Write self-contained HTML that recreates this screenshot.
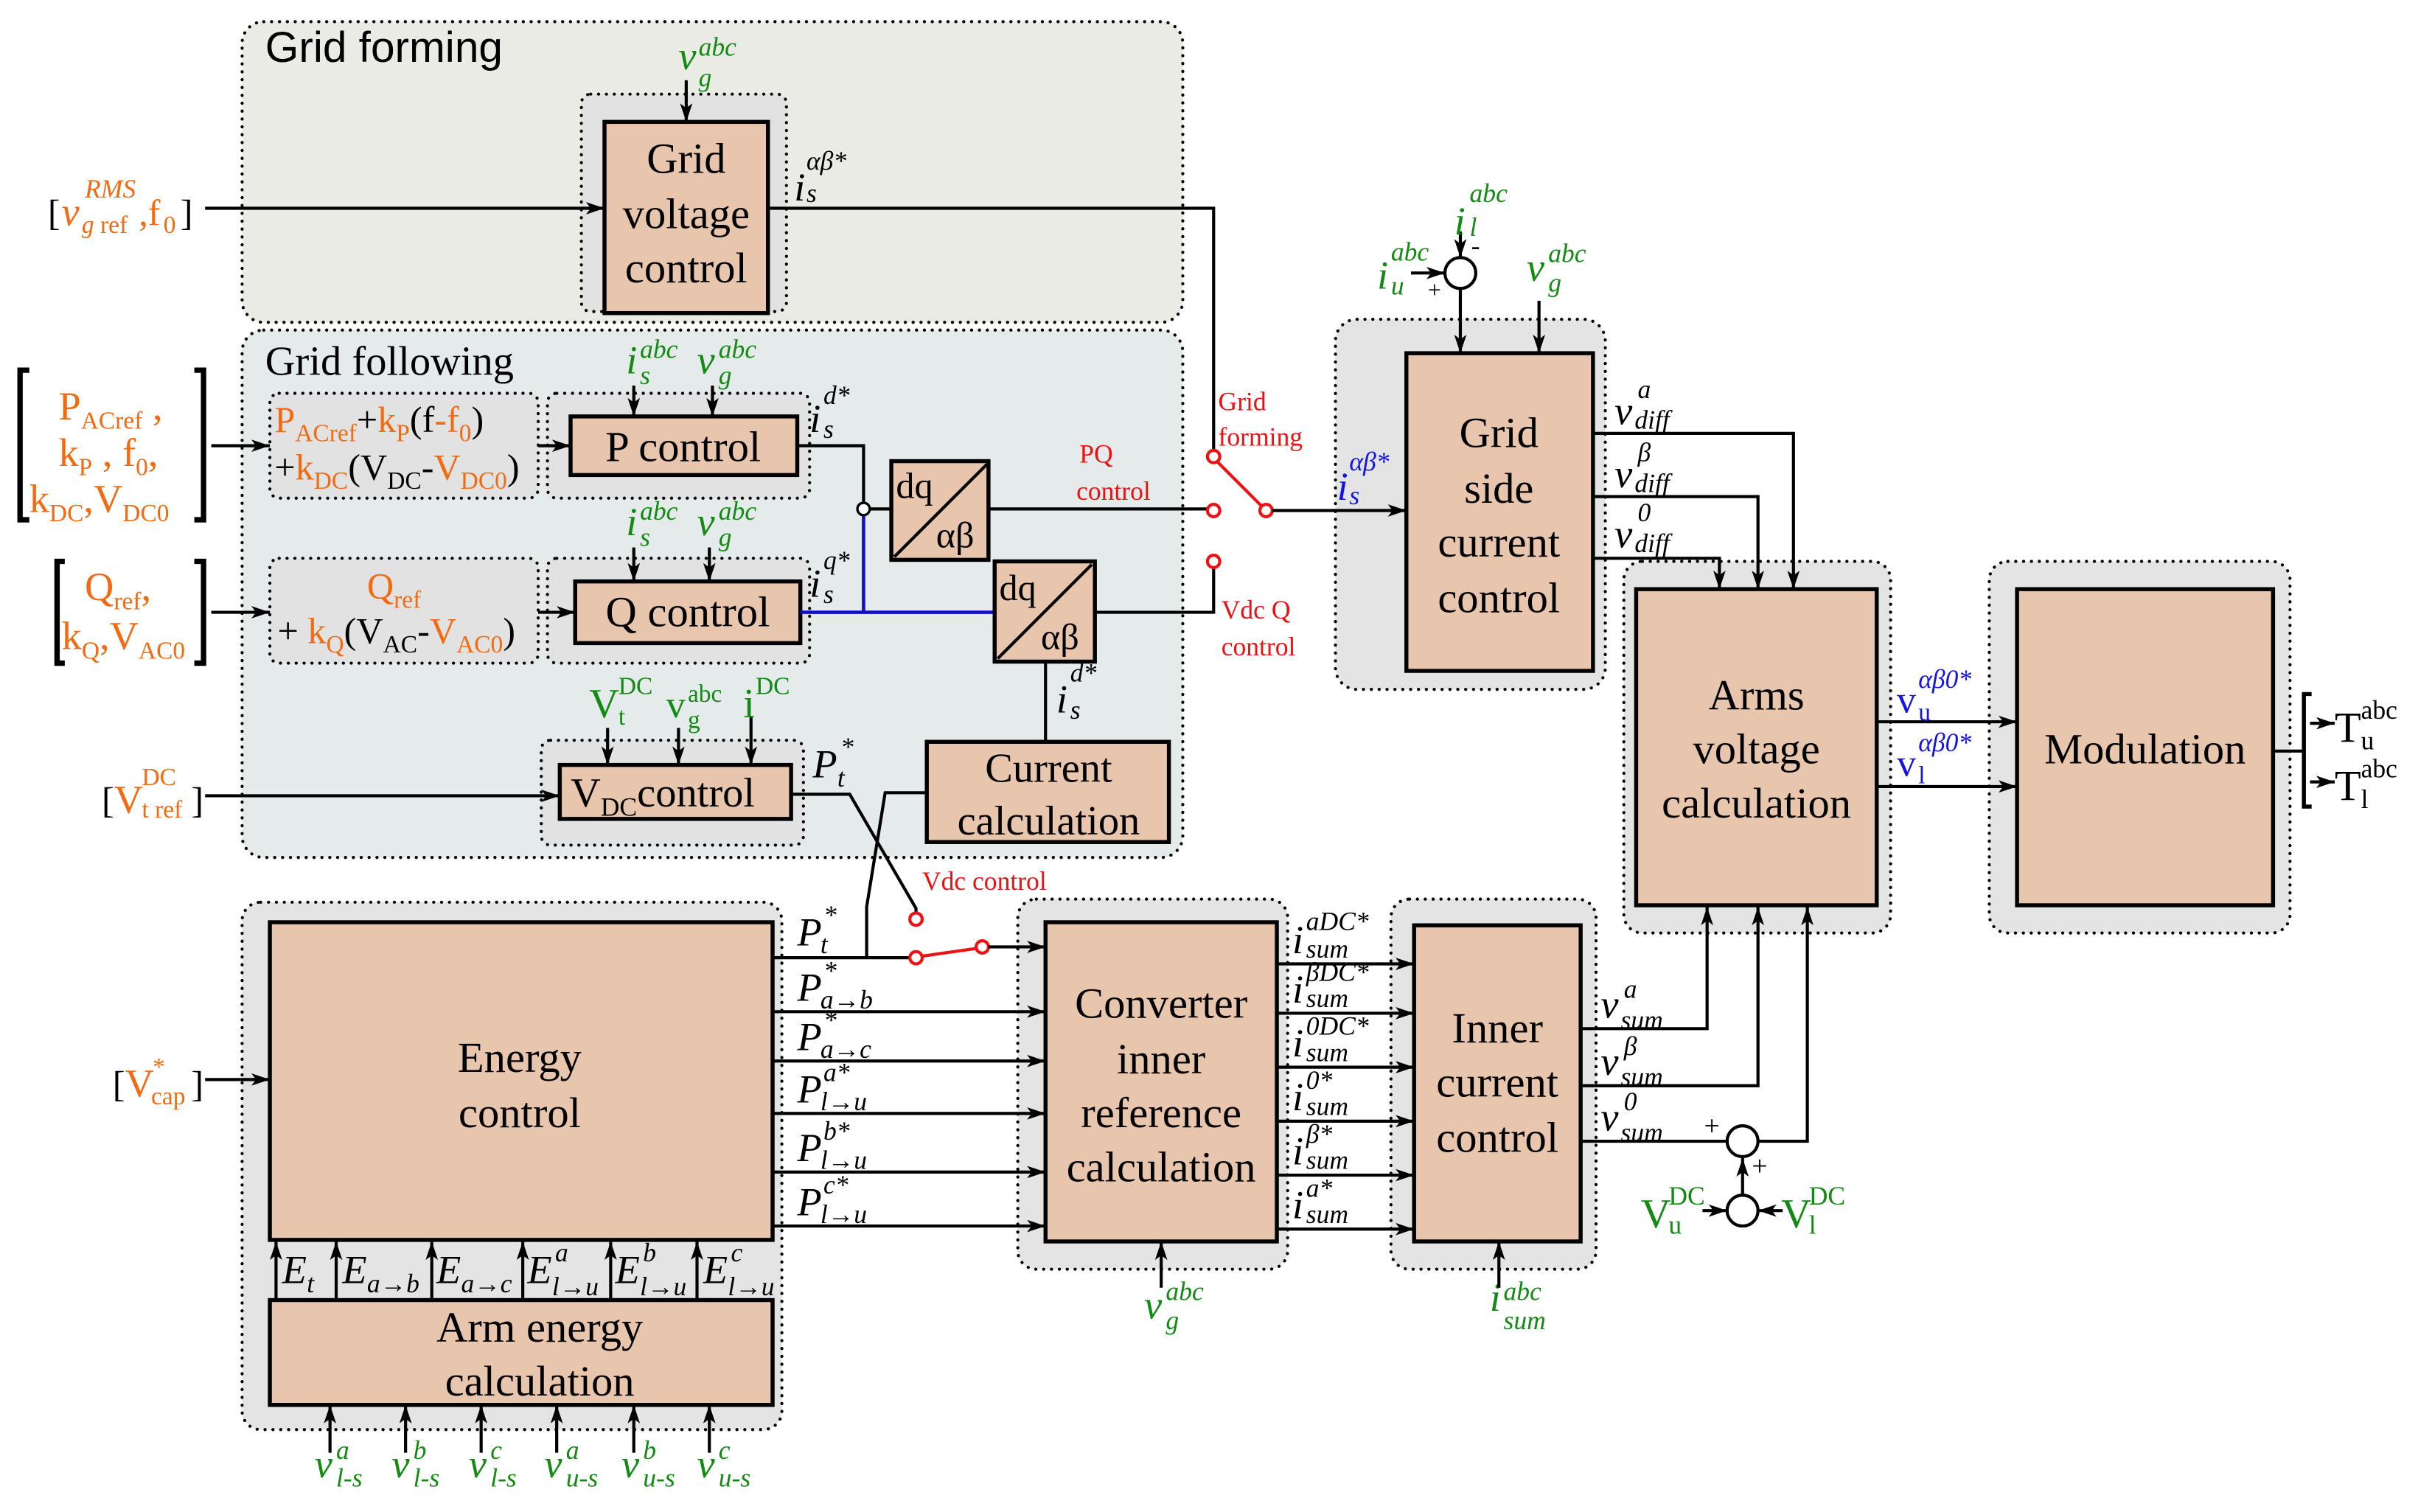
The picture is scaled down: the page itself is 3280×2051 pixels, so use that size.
<!DOCTYPE html>
<html><head><meta charset="utf-8"><style>
html,body{margin:0;padding:0;background:#fff}
svg{display:block}
text{font-family:"Liberation Serif",serif;fill:#000}
.m{font-style:italic;font-size:26px}
.s{font-style:italic;font-size:17px}
.b{font-size:28px;text-anchor:middle}
.u{font-size:24px}
.us{font-size:16px}
.g{fill:#138a13}.o{fill:#f26b12}.r{fill:#ee1111}.bl{fill:#1515e0}
.grp{stroke:#000;stroke-width:2;stroke-dasharray:0.1 5;stroke-linecap:round}
.box{fill:#e8c5ad;stroke:#000;stroke-width:2.6}
.ln{stroke:#000;stroke-width:2;fill:none}
.ar{stroke:#000;stroke-width:2;fill:none;marker-end:url(#a)}
.t{fill:#fff;stroke:#ee1111;stroke-width:2}
</style></head><body>
<svg width="3280" height="2051" viewBox="0 0 1568 980.4" xmlns="http://www.w3.org/2000/svg">
<defs><marker id="a" viewBox="0 0 12 8" refX="12" refY="4" markerWidth="12" markerHeight="8" markerUnits="userSpaceOnUse" orient="auto"><path d="M0,0 L12,4 L0,8 L3,4 z" fill="#000"/></marker></defs>

<!-- all group backgrounds first -->
<rect x="157" y="14" width="610" height="195" rx="14" fill="#ebebe6" class="grp"/>
<rect x="377" y="61" width="133" height="141" rx="6" fill="#e2e2e2" class="grp"/>
<rect x="157" y="214" width="610" height="342" rx="14" fill="#e5eaeb" class="grp"/>
<rect x="175" y="255" width="174" height="68" rx="6" fill="#e2e2e2" class="grp"/>
<rect x="355" y="255" width="170" height="68" rx="6" fill="#e2e2e2" class="grp"/>
<rect x="175" y="362" width="174" height="68" rx="6" fill="#e2e2e2" class="grp"/>
<rect x="355" y="362" width="170" height="68" rx="6" fill="#e2e2e2" class="grp"/>
<rect x="351" y="480" width="170" height="68" rx="6" fill="#e2e2e2" class="grp"/>
<rect x="157" y="585" width="350" height="342" rx="12" fill="#e4e4e4" class="grp"/>
<rect x="660" y="583" width="175" height="240" rx="12" fill="#e4e4e4" class="grp"/>
<rect x="902" y="583" width="133" height="240" rx="12" fill="#e4e4e4" class="grp"/>
<rect x="866" y="207" width="175" height="240" rx="14" fill="#e4e4e4" class="grp"/>
<rect x="1053" y="364" width="173" height="241" rx="12" fill="#e4e4e4" class="grp"/>
<rect x="1290" y="364" width="195" height="241" rx="12" fill="#e4e4e4" class="grp"/>

<!-- Grid forming -->
<text x="172" y="40" style="font-family:'Liberation Sans',sans-serif;font-size:28px">Grid forming</text>
<rect x="392" y="79" width="106" height="124" class="box"/>
<text class="b" x="445" y="112">Grid</text><text class="b" x="445" y="148">voltage</text><text class="b" x="445" y="183">control</text>
<text class="m g" x="440" y="45">v</text><text class="s g" x="453" y="36">abc</text><text class="s g" x="453" y="56">g</text>
<line class="ar" x1="445" y1="52" x2="445" y2="79"/>
<text class="u" x="31" y="146">[</text><text class="m o" x="40" y="146">v</text><text class="s o" x="55" y="128">RMS</text><text class="us o" x="53" y="151"><tspan font-style="italic">g</tspan> ref</text><text class="u o" x="90" y="146">,f</text><text class="us o" x="106" y="151">0</text><text class="u" x="117" y="146">]</text>
<line class="ar" x1="133" y1="135" x2="392" y2="135"/>
<polyline class="ln" points="498,135 787,135 787,292"/>
<text class="m" x="515" y="130">i</text><text class="s" x="523" y="110">αβ*</text><text class="s" x="523" y="131">s</text>

<!-- Grid following -->
<text x="172" y="243" style="font-size:27px">Grid following</text>
<text class="u" x="178" y="280"><tspan class="o">P</tspan><tspan class="o us" dy="6">ACref</tspan><tspan dy="-6">+</tspan><tspan class="o">k</tspan><tspan class="o us" dy="6">P</tspan><tspan dy="-6">(f</tspan><tspan class="o">-f</tspan><tspan class="o us" dy="6">0</tspan><tspan dy="-6">)</tspan></text>
<text class="u" x="178" y="311"><tspan>+</tspan><tspan class="o">k</tspan><tspan class="o us" dy="6">DC</tspan><tspan dy="-6">(V</tspan><tspan class="us" dy="6">DC</tspan><tspan dy="-6">-</tspan><tspan class="o">V</tspan><tspan class="o us" dy="6">DC0</tspan><tspan dy="-6">)</tspan></text>
<path class="ln" style="stroke-width:3.5" d="M19,240 H13 V337 H19 M126,240 H132 V337 H126"/>
<text class="u o" x="38" y="272" style="font-size:26px">P<tspan class="us" dy="6">ACref</tspan><tspan dy="-6"> ,</tspan></text>
<text class="u o" x="38" y="302" style="font-size:26px">k<tspan class="us" dy="6">P</tspan><tspan dy="-6"> ,  f</tspan><tspan class="us" dy="6">0</tspan><tspan dy="-6">,</tspan></text>
<text class="u o" x="19" y="332" style="font-size:26px">k<tspan class="us" dy="6">DC</tspan><tspan dy="-6">,V</tspan><tspan class="us" dy="6">DC0</tspan></text>
<line class="ar" x1="137" y1="289" x2="175" y2="289"/>
<line class="ar" x1="349" y1="289" x2="370" y2="289"/>
<rect x="370" y="270" width="147" height="38" class="box"/>
<text class="b" x="443" y="299">P control</text>
<text class="m g" x="406" y="242">i</text><text class="s g" x="415" y="232">abc</text><text class="s g" x="415" y="249">s</text>
<text class="m g" x="452" y="242">v</text><text class="s g" x="466" y="232">abc</text><text class="s g" x="466" y="249">g</text>
<line class="ar" x1="411" y1="250" x2="411" y2="270"/><line class="ar" x1="462" y1="250" x2="462" y2="270"/>
<text class="m" x="525" y="280">i</text><text class="s" x="534" y="262">d*</text><text class="s" x="534" y="284">s</text>
<polyline class="ln" points="517,289 560,289 560,326"/>
<line class="ln" x1="564" y1="330" x2="578" y2="330"/>
<rect x="578" y="299" width="63" height="64" class="box"/>
<line class="ln" x1="580" y1="361" x2="640" y2="301"/>
<text x="581" y="323" style="font-size:24px">dq</text><text x="607" y="355" style="font-size:24px">αβ</text>
<line class="ln" x1="641" y1="330" x2="783" y2="330"/>
<text class="r" x="700" y="300" style="font-size:17px">PQ</text><text class="r" x="698" y="324" style="font-size:17px">control</text>

<path class="ln" style="stroke-width:3.5" d="M42,364 H37 V430 H42 M126,364 H132 V430 H126"/>
<text class="o" x="55" y="389" style="font-size:26px">Q<tspan class="us" dy="6">ref</tspan><tspan dy="-6">,</tspan></text>
<text class="o" x="40" y="421" style="font-size:26px">k<tspan class="us" dy="6">Q</tspan><tspan dy="-6">,V</tspan><tspan class="us" dy="6">AC0</tspan></text>
<line class="ar" x1="137" y1="397" x2="175" y2="397"/>
<text class="u o" x="238" y="388">Q<tspan class="us" dy="6">ref</tspan></text>
<text class="u" x="180" y="417">+ <tspan class="o">k</tspan><tspan class="o us" dy="6">Q</tspan><tspan dy="-6">(V</tspan><tspan class="us" dy="6">AC</tspan><tspan dy="-6">-</tspan><tspan class="o">V</tspan><tspan class="o us" dy="6">AC0</tspan><tspan dy="-6">)</tspan></text>
<line class="ar" x1="349" y1="397" x2="373" y2="397"/>
<rect x="373" y="377" width="146" height="40" class="box"/>
<text class="b" x="446" y="406">Q control</text>
<text class="m g" x="406" y="347">i</text><text class="s g" x="415" y="337">abc</text><text class="s g" x="415" y="354">s</text>
<text class="m g" x="452" y="347">v</text><text class="s g" x="466" y="337">abc</text><text class="s g" x="466" y="354">g</text>
<line class="ar" x1="411" y1="355" x2="411" y2="377"/><line class="ar" x1="460" y1="355" x2="460" y2="377"/>
<text class="m" x="525" y="387">i</text><text class="s" x="534" y="369">q*</text><text class="s" x="534" y="391">s</text>
<path d="M519,397 H645 M560,334 V397" stroke="#1010c0" stroke-width="2.2" fill="none"/>
<circle cx="560" cy="330" r="4" fill="#fff" stroke="#000" stroke-width="1.6"/>
<rect x="645" y="364" width="65" height="65" class="box"/>
<line class="ln" x1="647" y1="427" x2="708" y2="366"/>
<text x="648" y="389" style="font-size:24px">dq</text><text x="675" y="421" style="font-size:24px">αβ</text>
<polyline class="ln" points="710,397 787,397 787,368"/>
<text class="r" x="792" y="401" style="font-size:17px">Vdc Q</text><text class="r" x="792" y="425" style="font-size:17px">control</text>
<text class="m" x="685" y="462">i</text><text class="s" x="694" y="442">d*</text><text class="s" x="694" y="466">s</text>
<line class="ln" x1="678" y1="429" x2="678" y2="481"/>
<rect x="601" y="481" width="157" height="65" class="box"/>
<text class="b" x="680" y="507" style="font-size:27px">Current</text><text class="b" x="680" y="541" style="font-size:27px">calculation</text>
<rect x="363" y="496" width="150" height="35" class="box"/>
<text x="370" y="523" style="font-size:27px">V<tspan style="font-size:17px" dy="6">DC</tspan><tspan dy="-6">control</tspan></text>
<text class="g" x="382" y="465" style="font-size:27px">V</text><text class="g" x="401" y="450" style="font-size:16px">DC</text><text class="g" x="401" y="470" style="font-size:16px">t</text>
<text class="g" x="432" y="465" style="font-size:25px">v</text><text class="g" x="446" y="455" style="font-size:16px">abc</text><text class="g" x="446" y="472" style="font-size:16px">g</text>
<text class="g" x="482" y="465" style="font-size:27px">i</text><text class="g" x="490" y="450" style="font-size:16px">DC</text>
<line class="ar" x1="394" y1="472" x2="394" y2="496"/><line class="ar" x1="440" y1="472" x2="440" y2="496"/><line class="ar" x1="487" y1="465" x2="487" y2="496"/>
<text class="u" x="66" y="527">[</text><text class="o" x="74" y="527" style="font-size:26px">V</text><text class="o" x="92" y="509" style="font-size:16px">DC</text><text class="o" x="92" y="530" style="font-size:16px">t ref</text><text class="u" x="124" y="527">]</text>
<line class="ar" x1="133" y1="516" x2="363" y2="516"/>
<text class="m" x="527" y="504">P</text><text class="s" x="545" y="490">*</text><text class="s" x="543" y="510">t</text>
<polyline class="ln" points="513,515 551,515 594,589 594,592"/>
<polyline class="ln" points="601,514 574,514 562,588 562,621"/>
<circle cx="594" cy="596" r="4" class="t"/>
<text class="r" x="598" y="577" style="font-size:17px">Vdc control</text>

<!-- Energy -->
<rect x="175" y="598" width="326" height="206" class="box"/>
<text class="b" x="337" y="695">Energy</text><text class="b" x="337" y="731">control</text>
<rect x="175" y="843" width="326" height="68" class="box"/>
<text class="b" x="350" y="870">Arm energy</text><text class="b" x="350" y="905">calculation</text>
<g class="ar"><line x1="179" y1="843" x2="179" y2="805"/><line x1="218" y1="843" x2="218" y2="805"/><line x1="280" y1="843" x2="280" y2="805"/><line x1="339" y1="843" x2="339" y2="805"/><line x1="396" y1="843" x2="396" y2="805"/><line x1="452" y1="843" x2="452" y2="805"/></g>
<text class="m" x="183" y="832">E</text><text class="s" x="199" y="838">t</text>
<text class="m" x="222" y="832">E</text><text class="s" x="238" y="838">a→b</text>
<text class="m" x="283" y="832">E</text><text class="s" x="299" y="838">a→c</text>
<text class="m" x="342" y="832">E</text><text class="s" x="360" y="818">a</text><text class="s" x="358" y="840">l→u</text>
<text class="m" x="399" y="832">E</text><text class="s" x="417" y="818">b</text><text class="s" x="415" y="840">l→u</text>
<text class="m" x="456" y="832">E</text><text class="s" x="474" y="818">c</text><text class="s" x="472" y="840">l→u</text>
<g class="ar"><line x1="214" y1="942" x2="214" y2="911"/><line x1="263" y1="942" x2="263" y2="911"/><line x1="312" y1="942" x2="312" y2="911"/><line x1="361" y1="942" x2="361" y2="911"/><line x1="411" y1="942" x2="411" y2="911"/><line x1="460" y1="942" x2="460" y2="911"/></g>
<text class="m g" x="204" y="958">v</text><text class="s g" x="218" y="946">a</text><text class="s g" x="218" y="964">l-s</text>
<text class="m g" x="254" y="958">v</text><text class="s g" x="268" y="946">b</text><text class="s g" x="268" y="964">l-s</text>
<text class="m g" x="304" y="958">v</text><text class="s g" x="318" y="946">c</text><text class="s g" x="318" y="964">l-s</text>
<text class="m g" x="353" y="958">v</text><text class="s g" x="367" y="946">a</text><text class="s g" x="367" y="964">u-s</text>
<text class="m g" x="403" y="958">v</text><text class="s g" x="417" y="946">b</text><text class="s g" x="417" y="964">u-s</text>
<text class="m g" x="452" y="958">v</text><text class="s g" x="466" y="946">c</text><text class="s g" x="466" y="964">u-s</text>
<text class="u" x="73" y="711">[</text><text class="o" x="81" y="711" style="font-size:26px">V</text><text class="o" x="99" y="697" style="font-size:16px">*</text><text class="o" x="98" y="716" style="font-size:16px">cap</text><text class="u" x="124" y="711">]</text>
<line class="ar" x1="133" y1="700" x2="175" y2="700"/>
<text class="m" x="517" y="613">P</text><text class="s" x="534" y="599">*</text><text class="s" x="532" y="618">t</text>
<text class="m" x="517" y="649">P</text><text class="s" x="534" y="635">*</text><text class="s" x="532" y="654">a→b</text>
<text class="m" x="517" y="681">P</text><text class="s" x="534" y="667">*</text><text class="s" x="532" y="686">a→c</text>
<text class="m" x="517" y="715">P</text><text class="s" x="534" y="701">a*</text><text class="s" x="532" y="720">l→u</text>
<text class="m" x="517" y="753">P</text><text class="s" x="534" y="739">b*</text><text class="s" x="532" y="758">l→u</text>
<text class="m" x="517" y="788">P</text><text class="s" x="534" y="774">c*</text><text class="s" x="532" y="793">l→u</text>
<line class="ln" x1="501" y1="621" x2="590" y2="621"/>
<g class="ar"><line x1="501" y1="656" x2="678" y2="656"/><line x1="501" y1="688" x2="678" y2="688"/><line x1="501" y1="722" x2="678" y2="722"/><line x1="501" y1="760" x2="678" y2="760"/><line x1="501" y1="795" x2="678" y2="795"/></g>
<line x1="598" y1="620" x2="633" y2="615" stroke="#ee1111" stroke-width="2"/>
<circle cx="594" cy="621" r="4" class="t"/><circle cx="637" cy="614" r="4" class="t"/>
<line class="ar" x1="641" y1="614" x2="678" y2="614"/>

<!-- Converter -->
<rect x="678" y="598" width="150" height="207" class="box"/>
<text class="b" x="753" y="660">Converter</text><text class="b" x="753" y="696">inner</text><text class="b" x="753" y="731">reference</text><text class="b" x="753" y="766">calculation</text>
<text class="m g" x="742" y="855">v</text><text class="s g" x="756" y="843">abc</text><text class="s g" x="756" y="862">g</text>
<line class="ar" x1="753" y1="835" x2="753" y2="805"/>
<g class="ar"><line x1="828" y1="625" x2="917" y2="625"/><line x1="828" y1="657" x2="917" y2="657"/><line x1="828" y1="692" x2="917" y2="692"/><line x1="828" y1="727" x2="917" y2="727"/><line x1="828" y1="762" x2="917" y2="762"/><line x1="828" y1="797" x2="917" y2="797"/></g>
<text class="m" x="838" y="618">i</text><text class="s" x="847" y="603">aDC*</text><text class="s" x="847" y="621">sum</text>
<text class="m" x="838" y="650">i</text><text class="s" x="847" y="636">βDC*</text><text class="s" x="847" y="653">sum</text>
<text class="m" x="838" y="685">i</text><text class="s" x="847" y="671">0DC*</text><text class="s" x="847" y="688">sum</text>
<text class="m" x="838" y="720">i</text><text class="s" x="847" y="706">0*</text><text class="s" x="847" y="723">sum</text>
<text class="m" x="838" y="755">i</text><text class="s" x="847" y="741">β*</text><text class="s" x="847" y="758">sum</text>
<text class="m" x="838" y="790">i</text><text class="s" x="847" y="776">a*</text><text class="s" x="847" y="793">sum</text>

<!-- Inner current -->
<rect x="917" y="600" width="108" height="205" class="box"/>
<text class="b" x="971" y="676">Inner</text><text class="b" x="971" y="711">current</text><text class="b" x="971" y="747">control</text>
<text class="m g" x="966" y="850">i</text><text class="s g" x="975" y="843">abc</text><text class="s g" x="975" y="862">sum</text>
<line class="ar" x1="972" y1="835" x2="972" y2="805"/>
<text class="m" x="1038" y="660">v</text><text class="s" x="1053" y="647">a</text><text class="s" x="1051" y="667">sum</text>
<text class="m" x="1038" y="697">v</text><text class="s" x="1053" y="684">β</text><text class="s" x="1051" y="704">sum</text>
<text class="m" x="1038" y="733">v</text><text class="s" x="1053" y="720">0</text><text class="s" x="1051" y="740">sum</text>
<polyline class="ar" points="1024,667 1107,667 1107,588"/>
<polyline class="ar" points="1024,704 1140,704 1140,588"/>
<line class="ln" x1="1024" y1="740" x2="1120" y2="740"/>
<polyline class="ar" points="1140,740 1172,740 1172,588"/>
<circle cx="1130" cy="740" r="10" fill="#fff" stroke="#000" stroke-width="2"/>
<circle cx="1130" cy="785" r="10" fill="#fff" stroke="#000" stroke-width="2"/>
<line class="ar" x1="1130" y1="775" x2="1130" y2="751"/>
<text x="1105" y="736" style="font-size:18px">+</text><text x="1136" y="762" style="font-size:18px">+</text>
<text class="g" x="1064" y="796" style="font-size:27px">V</text><text class="g" x="1082" y="781" style="font-size:17px">DC</text><text class="g" x="1082" y="800" style="font-size:17px">u</text>
<text class="g" x="1155" y="796" style="font-size:27px">V</text><text class="g" x="1173" y="781" style="font-size:17px">DC</text><text class="g" x="1173" y="800" style="font-size:17px">l</text>
<line class="ar" x1="1104" y1="785" x2="1120" y2="785"/><line class="ar" x1="1156" y1="785" x2="1140" y2="785"/>

<!-- Grid side -->
<rect x="912" y="229" width="121" height="206" class="box"/>
<text class="b" x="972" y="290">Grid</text><text class="b" x="972" y="326">side</text><text class="b" x="972" y="361">current</text><text class="b" x="972" y="397">control</text>
<circle cx="787" cy="296" r="4" class="t"/><circle cx="787" cy="331" r="4" class="t"/><circle cx="787" cy="364" r="4" class="t"/><circle cx="821" cy="331" r="4" class="t"/>
<line x1="818" y1="328" x2="789" y2="299" stroke="#ee1111" stroke-width="2"/>
<text class="r" x="790" y="266" style="font-size:17px">Grid</text><text class="r" x="790" y="289" style="font-size:17px">forming</text>
<line class="ar" x1="825" y1="331" x2="912" y2="331"/>
<text class="m bl" x="867" y="324">i</text><text class="s bl" x="875" y="305">αβ*</text><text class="s bl" x="875" y="327">s</text>
<circle cx="947" cy="177" r="10" fill="#fff" stroke="#000" stroke-width="2"/>
<line class="ar" x1="947" y1="150" x2="947" y2="167"/>
<line class="ar" x1="947" y1="187" x2="947" y2="229"/>
<text class="m g" x="943" y="152">i</text><text class="s g" x="953" y="131">abc</text><text class="s g" x="953" y="153">l</text>
<text x="954" y="165" style="font-size:17px">-</text>
<text class="m g" x="893" y="187">i</text><text class="s g" x="902" y="169">abc</text><text class="s g" x="902" y="191">u</text>
<text x="926" y="193" style="font-size:15px">+</text>
<line class="ar" x1="915" y1="177" x2="937" y2="177"/>
<text class="m g" x="990" y="182">v</text><text class="s g" x="1004" y="170">abc</text><text class="s g" x="1004" y="189">g</text>
<line class="ar" x1="998" y1="195" x2="998" y2="229"/>
<text class="m" x="1047" y="275">v</text><text class="s" x="1062" y="258">a</text><text class="s" x="1060" y="278">diff</text>
<text class="m" x="1047" y="316">v</text><text class="s" x="1062" y="299">β</text><text class="s" x="1060" y="319">diff</text>
<text class="m" x="1047" y="355">v</text><text class="s" x="1062" y="338">0</text><text class="s" x="1060" y="358">diff</text>
<polyline class="ar" points="1033,281 1163,281 1163,382"/>
<polyline class="ar" points="1033,322 1140,322 1140,382"/>
<polyline class="ar" points="1033,362 1115,362 1115,382"/>

<!-- Arms -->
<rect x="1061" y="382" width="156" height="205" class="box"/>
<text class="b" x="1139" y="460">Arms</text><text class="b" x="1139" y="495">voltage</text><text class="b" x="1139" y="530">calculation</text>
<line class="ar" x1="1217" y1="468" x2="1308" y2="468"/><line class="ar" x1="1217" y1="510" x2="1308" y2="510"/>
<text class="bl" x="1230" y="462" style="font-size:25px">v</text><text class="s bl" x="1244" y="446">αβ0*</text><text class="bl" x="1244" y="467" style="font-size:16px">u</text>
<text class="bl" x="1230" y="503" style="font-size:25px">v</text><text class="s bl" x="1244" y="487">αβ0*</text><text class="bl" x="1244" y="508" style="font-size:16px">l</text>

<!-- Modulation -->
<rect x="1308" y="382" width="166" height="205" class="box"/>
<text class="b" x="1391" y="495">Modulation</text>
<line class="ln" x1="1474" y1="487" x2="1494" y2="487"/>
<path class="ln" style="stroke-width:2.6" d="M1499,450 H1494 V523 H1499"/>
<line class="ar" x1="1498" y1="469" x2="1514" y2="469"/><line class="ar" x1="1498" y1="507" x2="1514" y2="507"/>
<text x="1514" y="481" style="font-size:28px">T</text><text x="1531" y="466" style="font-size:17px">abc</text><text x="1531" y="486" style="font-size:17px">u</text>
<text x="1514" y="519" style="font-size:28px">T</text><text x="1531" y="504" style="font-size:17px">abc</text><text x="1531" y="524" style="font-size:17px">l</text>
</svg>
</body></html>
